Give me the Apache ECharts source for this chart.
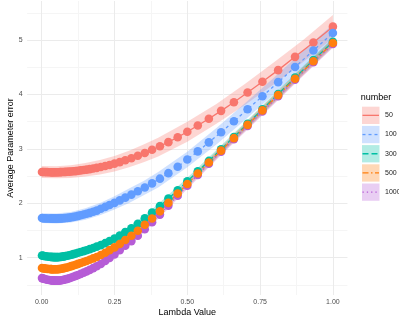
<!DOCTYPE html>
<html><head><meta charset="utf-8">
<script src="https://cdn.jsdelivr.net/npm/echarts@6/dist/echarts.min.js"></script>
<style>html,body{margin:0;padding:0;background:#fff}#c{width:399px;height:322px}</style>
</head><body><div id="c"></div>
<script>
// ---------------- data ----------------
const groups = ['50', '100', '300', '500', '1000'];
const xTicks = [0, 0.25, 0.5, 0.75, 1];
const yTicks = [1, 2, 3, 4, 5];
const xTitle = 'Lambda Value';
const yTitle = 'Average Parameter error';
const legendTitle = 'number';

const lambda = [0.001,0.004,0.008,0.013,0.019,0.025,
 0.031,0.033,0.036,0.038,0.041,0.044,0.047,0.051,0.054,0.058,
 0.063,0.067,0.072,0.077,0.082,0.088,0.095,0.102,0.109,0.117,
 0.125,0.134,0.144,0.154,0.165,0.177,0.189,0.203,0.218,0.233,
 0.25,0.268,0.287,0.308,0.33,0.354,0.379,0.406,0.435,0.467,
 0.5,0.536,0.574,0.616,0.66,0.707,0.758,0.812,0.87,0.933,1.0];

const err50 = [2.575,2.575,2.574,2.573,2.572,2.571,
 2.571,2.570,2.570,2.570,2.570,2.570,2.570,2.570,2.571,2.571,
 2.572,2.573,2.574,2.575,2.577,2.579,2.581,2.583,2.587,2.591,
 2.597,2.604,2.611,2.618,2.628,2.639,2.651,2.666,2.684,2.704,
 2.728,2.756,2.789,2.828,2.872,2.924,2.982,3.047,3.123,3.213,
 3.313,3.428,3.553,3.698,3.857,4.034,4.233,4.446,4.690,4.955,5.245];
const err100 = [1.728,1.726,1.724,1.722,1.721,1.720,
 1.720,1.720,1.720,1.720,1.720,1.720,1.720,1.720,1.720,1.721,
 1.722,1.723,1.725,1.727,1.729,1.732,1.737,1.744,1.750,1.758,
 1.768,1.780,1.793,1.808,1.824,1.843,1.865,1.899,1.933,1.968,
 2.008,2.053,2.103,2.159,2.220,2.289,2.365,2.452,2.553,2.671,
 2.803,2.953,3.119,3.305,3.507,3.726,3.967,4.225,4.503,4.806,5.128];
const err300 = [1.040,1.036,1.032,1.027,1.022,1.018,
 1.015,1.014,1.013,1.012,1.011,1.010,1.010,1.010,1.010,1.011,
 1.012,1.016,1.020,1.025,1.030,1.036,1.045,1.055,1.065,1.077,
 1.090,1.104,1.120,1.137,1.157,1.179,1.203,1.231,1.267,1.306,
 1.350,1.406,1.470,1.540,1.622,1.722,1.829,1.949,2.087,2.240,
 2.405,2.586,2.778,2.992,3.218,3.461,3.726,4.007,4.308,4.630,4.965];
const err500 = [0.810,0.806,0.803,0.799,0.795,0.792,
 0.790,0.790,0.789,0.788,0.788,0.787,0.788,0.788,0.789,0.790,
 0.792,0.797,0.802,0.808,0.814,0.821,0.833,0.845,0.857,0.871,
 0.886,0.902,0.921,0.940,0.962,0.987,1.014,1.049,1.092,1.139,
 1.190,1.253,1.325,1.403,1.494,1.604,1.721,1.852,2.007,2.178,
 2.355,2.547,2.748,2.967,3.196,3.441,3.706,3.987,4.288,4.610,4.945];
const err1000 = [0.625,0.619,0.612,0.603,0.596,0.590,
 0.586,0.585,0.583,0.581,0.580,0.579,0.579,0.578,0.578,0.579,
 0.581,0.585,0.590,0.596,0.603,0.611,0.623,0.636,0.650,0.666,
 0.683,0.702,0.725,0.748,0.776,0.808,0.842,0.885,0.938,0.996,
 1.060,1.137,1.220,1.305,1.404,1.524,1.651,1.792,1.957,2.138,
 2.323,2.520,2.725,2.947,3.176,3.421,3.686,3.967,4.268,4.590,4.925];

const ribbonLambda = [0,0.05,0.1,0.15,0.2,0.25,0.3,0.35,0.4,0.5,0.6,0.7,0.8,0.9,1.0];
const lo50 = [2.465,2.460,2.465,2.490,2.530,2.585,2.660,2.752,2.860,3.130,3.460,3.815,4.195,4.605,5.030];
const hi50 = [2.685,2.680,2.700,2.740,2.796,2.870,2.966,3.078,3.206,3.496,3.826,4.201,4.601,5.011,5.460];
const lo100 = [1.638,1.630,1.645,1.698,1.780,1.886,2.006,2.146,2.291,2.661,3.081,3.541,4.016,4.486,4.966];
const hi100 = [1.818,1.810,1.840,1.908,2.006,2.130,2.270,2.410,2.575,2.945,3.385,3.845,4.320,4.810,5.290];
const lo300 = [0.995,0.965,1.007,1.083,1.172,1.296,1.452,1.647,1.860,2.342,2.842,3.357,3.872,4.387,4.892];
const hi300 = [1.085,1.055,1.097,1.183,1.280,1.404,1.568,1.763,1.986,2.468,2.978,3.493,4.018,4.533,5.038];
const lo500 = [0.770,0.748,0.802,0.893,0.998,1.137,1.312,1.532,1.762,2.292,2.817,3.337,3.852,4.367,4.872];
const hi500 = [0.850,0.828,0.882,0.981,1.094,1.243,1.428,1.648,1.888,2.418,2.953,3.473,3.998,4.513,5.018];
const lo1000 = [0.590,0.546,0.595,0.700,0.835,1.010,1.215,1.460,1.710,2.260,2.800,3.320,3.835,4.350,4.855];
const hi1000 = [0.660,0.612,0.670,0.785,0.930,1.110,1.325,1.580,1.830,2.386,2.930,3.450,3.975,4.490,4.995];

// ---------------- styling ----------------
const values = [err50, err100, err300, err500, err1000];
const lows = [lo50, lo100, lo300, lo500, lo1000];
const highs = [hi50, hi100, hi300, hi500, hi1000];
const colors = ['#F8766D', '#619CFF', '#00BFA4', '#FF7F0E', '#B65CD6'];
const dashes = ['solid', [3, 3], [6, 3], [6, 2.5, 1.5, 2.5], [1.3, 3]];
const pointOrder = [0, 1, 2, 4, 3];
const FONT = 'Liberation Sans, Arial, Helvetica, sans-serif';

function rgba(hex, a) {
  const n = parseInt(hex.slice(1), 16);
  return 'rgba(' + ((n >> 16) & 255) + ',' + ((n >> 8) & 255) + ',' + (n & 255) + ',' + a + ')';
}

// panel geometry (ggplot-like expansion)
const X0 = 41.7, XS = 291.2;
const Y1 = 257.7, YS = 54.43;
const W = 399, H = 322;
const px = v => X0 + XS * v;
const py = v => Y1 - YS * (v - 1);
const xMin = -0.05, xMax = 1.05;
const panelTop = 1, panelBottom = 295;

const hidden = {show: false};
const noAxis = {axisLine: hidden, axisTick: hidden, axisLabel: hidden, splitLine: hidden};

const grids = [
  {left: px(xMin), right: W - px(xMax), top: py(5.5), bottom: H - py(0.5)},
  {left: px(xMin), right: W - px(xMax), top: py(yTicks[yTicks.length - 1]), bottom: H - py(yTicks[0])},
  {left: px(xTicks[0]), right: W - px(xTicks[xTicks.length - 1]), top: panelTop, bottom: H - panelBottom},
  {left: px(0.125), right: W - px(0.875), top: panelTop, bottom: H - panelBottom}
];

const xAxes = [
  Object.assign({type: 'value', gridIndex: 0, min: xMin, max: xMax}, noAxis),
  Object.assign({type: 'value', gridIndex: 1, min: 0, max: 1}, noAxis),
  {type: 'value', gridIndex: 2, min: xTicks[0], max: xTicks[xTicks.length - 1], interval: 0.25,
   axisLine: hidden, axisTick: hidden,
   axisLabel: {show: true, margin: 3.5, fontSize: 7, color: '#4D4D4D', fontFamily: FONT,
     formatter: v => v.toFixed(2)},
   splitLine: {show: true, lineStyle: {color: '#EBEBEB', width: 1}}},
  {type: 'value', gridIndex: 3, min: 0.125, max: 0.875, interval: 0.25,
   axisLine: hidden, axisTick: hidden, axisLabel: hidden,
   splitLine: {show: true, lineStyle: {color: '#F5F5F5', width: 1}}}
];
const yAxes = [
  {type: 'value', gridIndex: 0, min: 0.5, max: 5.5, interval: 1,
   axisLine: hidden, axisTick: hidden, axisLabel: hidden,
   splitLine: {show: true, lineStyle: {color: '#F5F5F5', width: 1}}},
  {type: 'value', gridIndex: 1, min: yTicks[0], max: yTicks[yTicks.length - 1], interval: 1,
   axisLine: hidden, axisTick: hidden,
   axisLabel: {show: true, margin: 4.5, fontSize: 7, color: '#4D4D4D', fontFamily: FONT},
   splitLine: {show: true, lineStyle: {color: '#EBEBEB', width: 1}}},
  Object.assign({type: 'value', gridIndex: 2, min: 0, max: 1}, noAxis),
  Object.assign({type: 'value', gridIndex: 3, min: 0, max: 1}, noAxis)
];

const series = [];
groups.forEach((g, k) => {
  series.push({
    type: 'custom', name: g + ' band', xAxisIndex: 0, yAxisIndex: 0, z: 2, silent: true,
    data: ribbonLambda.map((x, i) => [x, lows[k][i], highs[k][i]]),
    encode: {x: 0, y: [1, 2]},
    renderItem: (params, api) => {
      if (params.dataIndex !== 0) return null;
      const pts = [];
      for (let i = 0; i < ribbonLambda.length; i++) pts.push(api.coord([ribbonLambda[i], highs[k][i]]));
      for (let i = ribbonLambda.length - 1; i >= 0; i--) pts.push(api.coord([ribbonLambda[i], lows[k][i]]));
      return {type: 'polygon', shape: {points: pts}, style: {fill: rgba(colors[k], 0.3), stroke: null}};
    }
  });
});
groups.forEach((g, k) => {
  series.push({
    type: 'line', name: g, xAxisIndex: 0, yAxisIndex: 0, z: 3, silent: true,
    showSymbol: false, symbol: 'none',
    data: lambda.map((x, i) => [x, values[k][i]]),
    lineStyle: {color: colors[k], width: 1.3, type: dashes[k]}
  });
});
pointOrder.forEach(k => {
  series.push({
    type: 'scatter', name: groups[k] + ' pts', xAxisIndex: 0, yAxisIndex: 0, z: 4, silent: true,
    symbol: 'circle', symbolSize: 8.6,
    data: lambda.map((x, i) => [x, values[k][i]]),
    itemStyle: {color: colors[k], opacity: 1}
  });
});

const graphics = [
  {type: 'text', x: (px(xMin) + px(xMax)) / 2, y: 313,
   style: {text: xTitle, font: '9px ' + FONT, fill: '#000', textAlign: 'center', textVerticalAlign: 'middle', align: 'center', verticalAlign: 'middle'}},
  {type: 'text', x: 11, y: (panelTop + panelBottom) / 2, rotation: Math.PI / 2,
   style: {text: yTitle, font: '9px ' + FONT, fill: '#000', textAlign: 'center', textVerticalAlign: 'middle', align: 'center', verticalAlign: 'middle'}},
  {type: 'text', x: 360.7, y: 97.3,
   style: {text: legendTitle, font: '9px ' + FONT, fill: '#000', textAlign: 'left', textVerticalAlign: 'middle', align: 'left', verticalAlign: 'middle'}}
];
const keyX = 362, keyW = 17.5, keyH = 17.3, keyTop = 106.7, keyPitch = 19.2;
groups.forEach((g, k) => {
  const y0 = keyTop + k * keyPitch;
  graphics.push({type: 'rect', shape: {x: keyX, y: y0, width: keyW, height: keyH},
    style: {fill: rgba(colors[k], 0.3), stroke: null}});
  graphics.push({type: 'line', shape: {x1: keyX + 0.5, y1: y0 + keyH / 2, x2: keyX + keyW - 0.5, y2: y0 + keyH / 2},
    style: {stroke: colors[k], lineWidth: 1.3, lineDash: dashes[k] === 'solid' ? null : dashes[k]}});
  graphics.push({type: 'text', x: 385, y: y0 + keyH / 2,
    style: {text: g, font: '7px ' + FONT, fill: '#1A1A1A', textAlign: 'left', textVerticalAlign: 'middle', align: 'left', verticalAlign: 'middle'}});
});

const chart = echarts.init(document.getElementById('c'), null, {renderer: 'canvas'});
chart.setOption({
  animation: false,
  backgroundColor: '#fff',
  grid: grids,
  xAxis: xAxes,
  yAxis: yAxes,
  series: series,
  graphic: {elements: graphics}
});
</script>
</body></html>
